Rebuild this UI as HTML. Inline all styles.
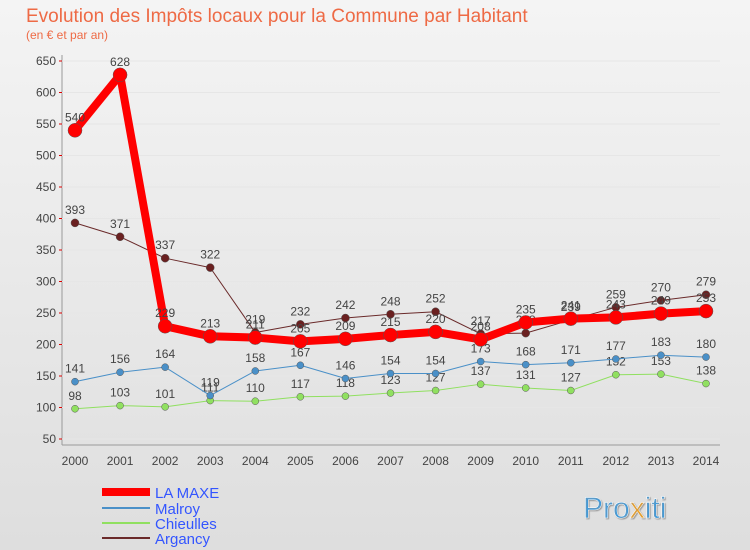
<!DOCTYPE html>
<html><head><meta charset="utf-8"><style>
body{margin:0;width:750px;height:550px;overflow:hidden;font-family:"Liberation Sans",sans-serif}
svg{display:block}
text{font-family:"Liberation Sans",sans-serif}
</style></head><body>
<svg id="c" width="750" height="550">
<defs><linearGradient id="bg" x1="0" y1="0" x2="0" y2="1"><stop offset="0" stop-color="#f4f4f4"/><stop offset="1" stop-color="#dedede"/></linearGradient></defs>
<rect width="750" height="550" fill="url(#bg)"/>
<text x="26" y="22" font-size="19" fill="#ee6a45">Evolution des Impôts locaux pour la Commune par Habitant</text>
<text x="26" y="39" font-size="12" fill="#ee6a45">(en € et par an)</text>
<g id="axes"></g><g id="series"></g>
<g>
<line x1="102" y1="492" x2="150" y2="492" stroke="#ff0000" stroke-width="8"/>
<text x="155" y="498" font-size="15" fill="#3355ff">LA MAXE</text>
<line x1="102" y1="508" x2="150" y2="508" stroke="#4a90c8" stroke-width="2"/>
<text x="155" y="514" font-size="15" fill="#3355ff">Malroy</text>
<line x1="102" y1="523" x2="150" y2="523" stroke="#90e060" stroke-width="2"/>
<text x="155" y="529" font-size="15" fill="#3355ff">Chieulles</text>
<line x1="102" y1="538" x2="150" y2="538" stroke="#6a2a2a" stroke-width="2"/>
<text x="155" y="544" font-size="15" fill="#3355ff">Argancy</text>
</g>
<text x="583" y="518" font-size="30" fill="#3a9be0" stroke="#ffffff" stroke-width="0.5" style="text-shadow:1px 1px 1px #999">Pro<tspan fill="#f0a020">x</tspan>iti</text>
</svg>
<script>
const years=[2000,2001,2002,2003,2004,2005,2006,2007,2008,2009,2010,2011,2012,2013,2014];
const yTicks=[50,100,150,200,250,300,350,400,450,500,550,600,650];
const laMaxe=[540,628,229,213,211,205,209,215,220,208,235,241,243,249,253];
const malroy=[141,156,164,119,158,167,146,154,154,173,168,171,177,183,180];
const chieulles=[98,103,101,111,110,117,118,123,127,137,131,127,152,153,138];
const argancy=[393,371,337,322,219,232,242,248,252,217,218,239,259,270,279];
const NS='http://www.w3.org/2000/svg';
const x=i=>75+i*(706-75)/(years.length-1);
const y=v=>439-(v-50)*378/600;
function mk(t,a,p){const e=document.createElementNS(NS,t);for(const k in a)e.setAttribute(k,a[k]);p.appendChild(e);return e;}
const ax=document.getElementById('axes');
const yaxis=mk('line',{x1:62,y1:55,x2:62,y2:445,stroke:'#999'},ax);


const xaxis=mk('line',{x1:62,y1:445,x2:720,y2:445,stroke:'#999'},ax);


yTicks.forEach(v=>{
  const g=mk('line',{x1:62,y1:y(v),x2:720,y2:y(v),stroke:'#e6e6e6'},ax);
  
  
  const tk=mk('line',{x1:59,y1:y(v),x2:62,y2:y(v),stroke:'#d00'},ax);
  
  
  const t=mk('text',{x:56,y:y(v)+4,'font-size':12,'text-anchor':'end',fill:'#444'},ax);
  t.textContent=v;
  
  
});
years.forEach((yr,i)=>{
  const t=mk('text',{x:x(i),y:465,'font-size':12,'text-anchor':'middle',fill:'#444'},ax);
  t.textContent=yr;
  
  
});
const sg=document.getElementById('series');
function series(vals,name,col,w,r,dot){
  const g=mk('g',{},sg);
  
  
  const pl=mk('polyline',{points:vals.map((v,i)=>x(i)+','+y(v)).join(' '),fill:'none',stroke:col,'stroke-width':w,'stroke-linejoin':'round'},g);
  
  
  vals.forEach((v,i)=>{
    const c=mk('circle',{cx:x(i),cy:y(v),r:r,fill:dot,stroke:'#555','stroke-width':0.5},g);
    
    
    const t=mk('text',{x:x(i),y:y(v)-9,'font-size':12,'text-anchor':'middle',fill:'#444'},g);
    t.textContent=v;
    
    
  });
}
series(chieulles,'chieulles','#90e060',1,3.5,'#90e060');
series(malroy,'malroy','#4a90c8',1,3.5,'#4a90c8');
series(argancy,'argancy','#6a2a2a',1,4,'#6a2020');
series(laMaxe,'la-maxe','#ff0000',8,7,'#ff0000');
</script>
</body></html>
